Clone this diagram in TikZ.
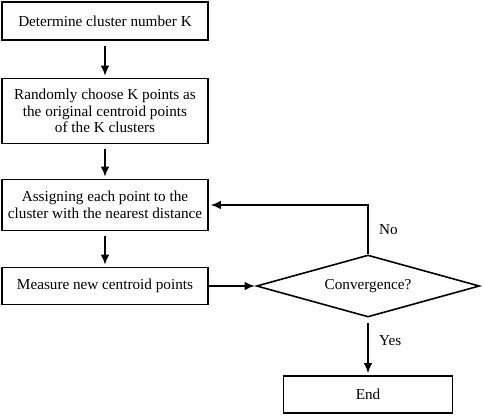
\documentclass[tikz,border=0pt]{standalone}
\usepackage{fontspec}
\setmainfont{Liberation Serif}
\usetikzlibrary{shapes,arrows.meta,positioning}
\tikzset{
block/.style = {draw, fill=white, rectangle, align=center, minimum width=206pt, inner sep=0pt},
decision/.style = {draw, fill=white, diamond, aspect=3.6, minimum width=223pt, minimum height=62pt, inner sep=0pt},
tmp/.style = {coordinate},
flow/.style = {->, shorten <=5pt, shorten >=2pt}
}
\begin{document}
\begin{tikzpicture}[auto, node distance=90pt, >={Latex[length=10pt,width=8.5pt]}, line width=1.6pt, font=\fontsize{15.2}{16.5}\selectfont]
  \useasboundingbox (0,0) rectangle (484pt,-416pt);
  \node [block, minimum height=38pt] at (105pt,-21pt)              (kinit)   {Determine cluster number K};
  \node [block, below of=kinit, minimum height=65pt]                (choose)  {Randomly choose K points as\\the original centroid points\\of the K clusters};
  \node [block, below of=choose, node distance=94pt, minimum height=51pt]   (assign)  {Assigning each point to the\\cluster with the nearest distance};
  \node [block, below of=assign, node distance=81pt, minimum height=37pt]   (measure) {Measure new centroid points};
  \node [decision, right of=measure, node distance=263pt]                  (conv)    {Convergence?};
  \node [block, below of=conv, node distance=108.5pt, minimum width=169pt, minimum height=37pt] (finish) {End};

  \draw [flow] (kinit) -- (choose);
  \draw [flow] (choose) -- (assign);
  \draw [flow] (assign) -- (measure);
  \draw [->, shorten >=1pt] (measure) -- (conv);
  \draw [->, shorten >=2pt] (conv) |- node[pos=0.25, right=7pt] {No} (assign);
  \draw [flow] (conv) -- node[pos=0.4, right=7pt] {Yes} (finish);
\end{tikzpicture}
\end{document}
